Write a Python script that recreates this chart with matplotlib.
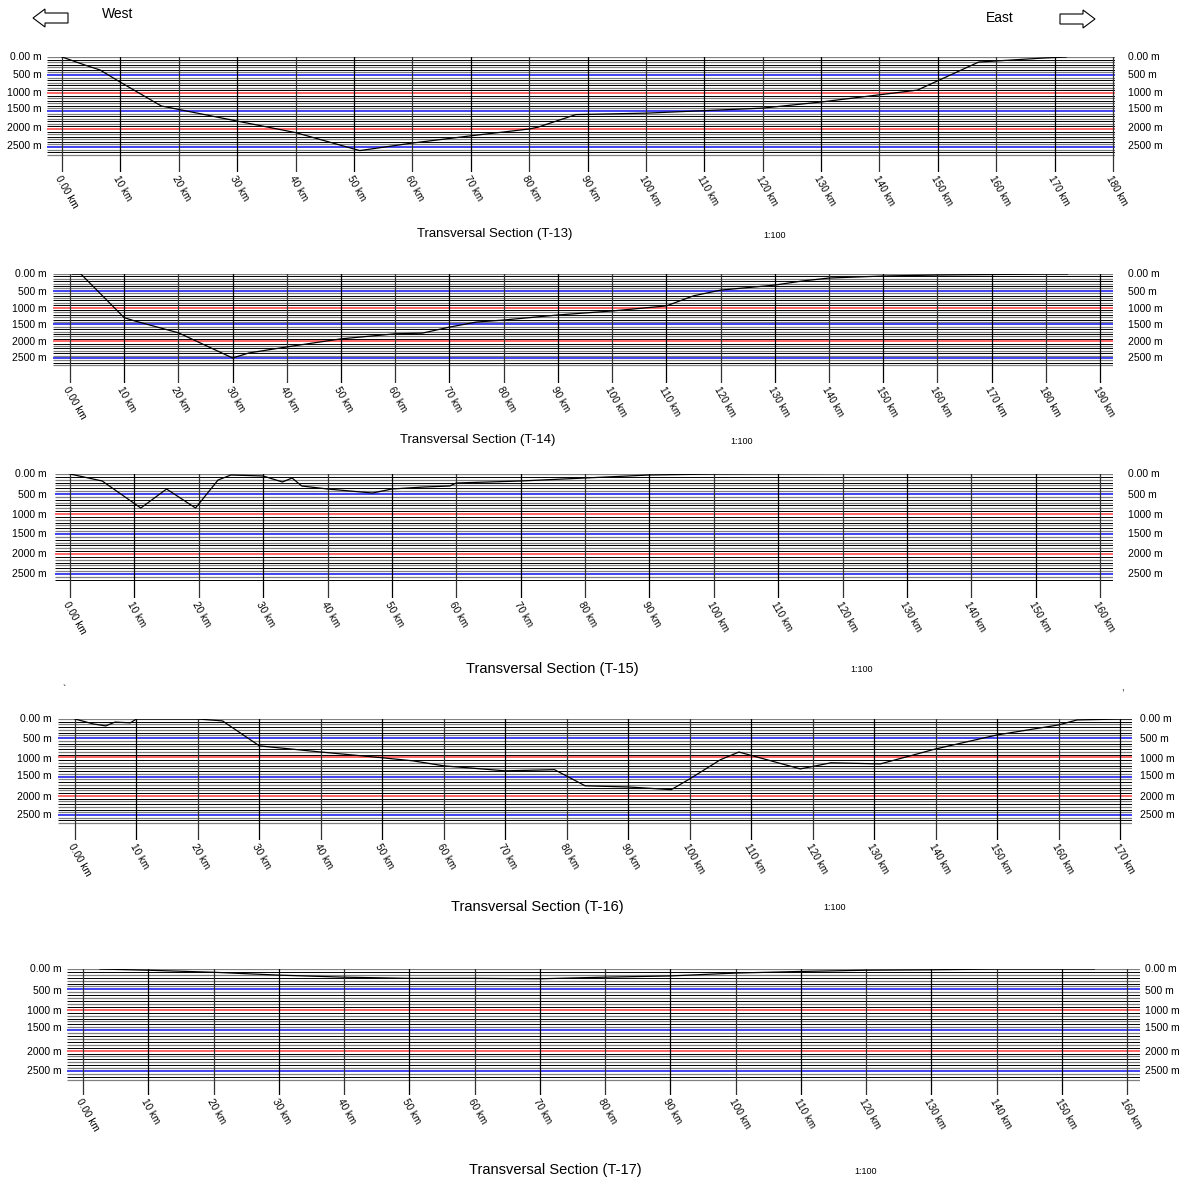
import matplotlib
matplotlib.use("Agg")
import matplotlib.pyplot as plt
from matplotlib.patches import Polygon
import numpy as np

plt.rcParams['font.family'] = ['Liberation Sans', 'DejaVu Sans']

# ---------------- data ----------------
section_names = ["T-13", "T-14", "T-15", "T-16", "T-17"]
scale_text = "1:100"
depth_labels = ["0.00 m", "500 m", "1000 m", "1500 m", "2000 m", "2500 m"]
depth_values = [0, 500, 1000, 1500, 2000, 2500]

t13_km = [0, 4.4, 6.5, 10, 17, 30, 40, 51, 60, 70, 80, 81.5, 88, 100, 120, 130, 140, 146.5, 157, 168, 172]
t13_m = [0, 250, 360, 700, 1360, 1780, 2100, 2600, 2390, 2190, 2000, 1950, 1600, 1560, 1420, 1250, 1050, 920, 140, 30, 0]

t14_km = [0.5, 2, 10, 12, 20, 30, 33, 40, 50, 60, 65, 70, 75, 80, 90, 100, 110, 115, 120, 130, 135, 140, 150, 160, 170, 180, 184]
t14_m = [0, 0, 1300, 1400, 1750, 2500, 2350, 2170, 1930, 1780, 1760, 1580, 1430, 1370, 1220, 1100, 950, 650, 480, 330, 210, 120, 60, 30, 15, 0, 0]

t15_km = [0, 5, 11, 15, 19.5, 23, 25, 30, 33, 34.5, 36, 40, 47, 50, 55, 59, 60, 70, 80, 90, 100, 110, 126]
t15_m = [0, 175, 850, 375, 850, 150, 25, 50, 200, 100, 300, 375, 475, 375, 325, 300, 225, 175, 100, 25, 0, -10, -20]

t16_km = [0, 3, 5, 6.5, 9, 10, 20, 24, 30, 40, 50, 55, 60, 70, 78, 83, 90, 97, 100, 105, 108, 118, 123, 131, 140, 150, 160, 163, 170, 173]
t16_m = [0, 130, 180, 80, 100, 0, 0, 50, 700, 860, 1010, 1090, 1220, 1350, 1320, 1740, 1770, 1840, 1560, 1060, 860, 1300, 1140, 1170, 780, 415, 155, 25, 0, 0]

t17_km = [2.6, 10, 20, 30, 40, 50, 60, 70, 80, 90, 100, 110, 120, 130, 140, 155]
t17_m = [0, 30, 80, 150, 200, 230, 230, 240, 200, 170, 100, 60, 30, 20, 0, 0]

profiles_km = [t13_km, t14_km, t15_km, t16_km, t17_km]
profiles_m = [t13_m, t14_m, t15_m, t16_m, t17_m]
tick_max_km = [180, 190, 160, 170, 160]

# ---------------- layout (pixels) ----------------
W, H = 1190, 1181
layout = [
    dict(x0=62, xend=1113, xl=47, xr=1115, y0=57, y2500=147, hmax=2750, ybot=172,
         ll=42, rl=1128, ty=234, tx=495, sx=775, tfs=9.5,
         lab_y=[57, 75, 93, 109, 128, 146]),
    dict(x0=70, xend=1100, xl=53, xr=1113, y0=274, y2500=358, hmax=2750, ybot=383,
         ll=47, rl=1128, ty=440, tx=478, sx=742, tfs=9.5,
         lab_y=[274, 292, 309, 325, 342, 358]),
    dict(x0=70, xend=1100, xl=55, xr=1113, y0=474, y2500=574, hmax=2700, ybot=598,
         ll=47, rl=1128, ty=669, tx=552, sx=862, tfs=10.5,
         lab_y=[474, 495, 515, 534, 554, 574]),
    dict(x0=75, xend=1120, xl=58, xr=1132, y0=719, y2500=815, hmax=2750, ybot=840,
         ll=52, rl=1140, ty=907, tx=537, sx=835, tfs=10.5,
         lab_y=[719, 739, 759, 776, 797, 815]),
    dict(x0=83, xend=1127, xl=67, xr=1140, y0=969, y2500=1071, hmax=2750, ybot=1095,
         ll=62, rl=1145, ty=1170, tx=555, sx=866, tfs=10.5,
         lab_y=[969, 991, 1011, 1028, 1052, 1071]),
]

fig = plt.figure(figsize=(W / 100, H / 100), dpi=100)
over = fig.add_axes([0, 0, 1, 1])
over.set_xlim(0, W)
over.set_ylim(H, 0)
over.axis('off')
over.set_zorder(5)

step = 500.0 / 7.0
for i, L in enumerate(layout):
    kmpx = (L['xend'] - L['x0']) / tick_max_km[i]
    mpx = (L['y2500'] - L['y0']) / 2500.0
    xmin = (L['xl'] - L['x0']) / kmpx
    xmax = (L['xr'] - L['x0']) / kmpx
    ymax = (L['ybot'] - L['y0']) / mpx
    ax = fig.add_axes([L['xl'] / W, 1 - L['ybot'] / H,
                       (L['xr'] - L['xl']) / W, (L['ybot'] - L['y0']) / H])
    ax.set_xlim(xmin, xmax)
    ax.set_ylim(ymax, 0)
    ax.axis('off')

    k = 0
    while k * step <= L['hmax']:
        lev = k * step
        z = 1
        if k % 7 == 0 and k > 0:
            c = '#3434f0' if (k // 7) % 2 == 1 else '#ff5a5a'
            lw = 1.3
            z = 1.5
        elif k % 2 == 0:
            c = '#808080'
            lw = 0.9
        else:
            c = '#000000'
            lw = 0.7
        ax.plot([xmin, xmax], [lev, lev], color=c, lw=lw, solid_capstyle='butt', zorder=z)
        k += 1

    ticks = np.arange(0, tick_max_km[i] + 1, 10)
    for t in ticks:
        ax.plot([t, t], [0, ymax], color='#000000' if t % 20 else '#333333', lw=0.9, zorder=2)
        lab = "0.00 km" if t == 0 else f"{int(t)} km"
        over.text(L['x0'] + t * kmpx, L['ybot'] + 2, lab, rotation=-60, ha='left', va='top',
                  rotation_mode='anchor', fontsize=7.2)

    ax.plot(profiles_km[i], profiles_m[i], color='black', lw=0.9, zorder=3)

    for lab, yy in zip(depth_labels, L['lab_y']):
        over.text(L['ll'], yy, lab, ha='right', va='center', fontsize=7.5)
        over.text(L['rl'], yy, lab, ha='left', va='center', fontsize=7.5)

    over.text(L['tx'], L['ty'], f"Transversal Section ({section_names[i]})", ha='center',
              va='center', fontsize=L['tfs'])
    over.text(L['sx'], L['ty'] + 1, scale_text, ha='center', va='center', fontsize=6.5)

# header arrows
left_arrow = [(33, 18), (45, 9), (45, 13), (68, 13), (68, 23), (45, 23), (45, 27)]
right_arrow = [(1095, 19), (1083, 10), (1083, 14), (1060, 14), (1060, 24), (1083, 24), (1083, 28)]
over.add_patch(Polygon(left_arrow, closed=True, fill=False, ec='black', lw=0.8))
over.add_patch(Polygon(right_arrow, closed=True, fill=False, ec='black', lw=0.8))
over.text(118, 14, "West", ha='center', va='center', fontsize=10)
over.text(1000, 18, "East", ha='center', va='center', fontsize=10)
over.text(64, 690, "`", ha='center', va='center', fontsize=7)
over.text(1122, 688, ",", ha='center', va='center', fontsize=7)

fig.savefig("out.png", dpi=100)
